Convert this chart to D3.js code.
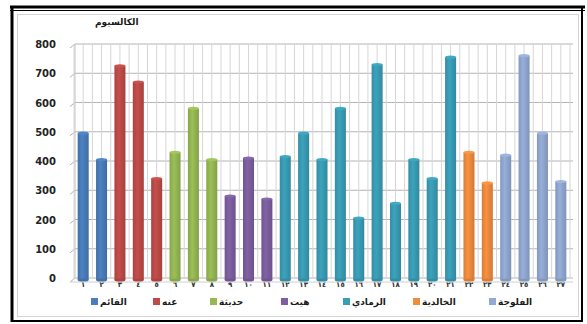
<!DOCTYPE html>
<html>
<head>
<meta charset="utf-8">
<script src="https://cdn.jsdelivr.net/npm/d3@7"></script>
<style>
  html, body { margin: 0; padding: 0; background: #fff; }
  svg { display: block; }
  text { font-family: "DejaVu Sans", "Noto Sans", sans-serif; }
</style>
</head>
<body>
<svg id="chart" width="587" height="324"></svg>
<script>
// Sample sites (Arabic-Indic numbering) and the city each belongs to
const sites = ["١","٢","٣","٤","٥","٦","٧","٨","٩","١٠","١١","١٢","١٣","١٤","١٥","١٦","١٧","١٨","١٩","٢٠","٢١","٢٢","٢٣","٢٤","٢٥","٢٦","٢٧"];
const cities = ["القائم", "عنه", "حديثة", "هيت", "الرمادي", "الخالدية", "الفلوجة"];
const cityColors = ["#4A7DBB", "#BE4B48", "#97B954", "#7D5FA0", "#3A9DB6", "#F08C3E", "#92A9D2"];
const siteCity = [0,0, 1,1,1, 2,2,2, 3,3,3, 4,4,4,4,4,4,4,4,4,4, 5,5, 6,6,6,6];
const calcium = [495,405, 725,670,340, 430,580,405, 280,410,270,
                 415,495,405,580,205,730,255,405,340,755, 430,325, 420,760,495,330];
const yTicks = [0,100,200,300,400,500,600,700,800];
const yTitle = "الكالسيوم";

const svg = d3.select("#chart");

// frame: thick black double border with a light grey inner chart border
svg.append("rect").attr("x", 17.5).attr("y", 14.5).attr("width", 561).attr("height", 302)
  .attr("fill", "#fff").attr("stroke", "#d4d4d4").attr("stroke-width", 1);
svg.append("line").attr("x1", 10).attr("x2", 585).attr("y1", 7).attr("y2", 7)
  .attr("stroke", "#000").attr("stroke-width", 3);
svg.append("line").attr("x1", 10).attr("x2", 585).attr("y1", 10.5).attr("y2", 10.5)
  .attr("stroke", "#000").attr("stroke-width", 1.2);
svg.append("line").attr("x1", 12).attr("x2", 12).attr("y1", 6).attr("y2", 322)
  .attr("stroke", "#000").attr("stroke-width", 3);
svg.append("line").attr("x1", 582).attr("x2", 582).attr("y1", 6).attr("y2", 322)
  .attr("stroke", "#000").attr("stroke-width", 2);
svg.append("line").attr("x1", 11).attr("x2", 583).attr("y1", 321).attr("y2", 321)
  .attr("stroke", "#000").attr("stroke-width", 2);

const x = d3.scaleBand().domain(sites).range([74, 570]).paddingInner(0.4).paddingOuter(0.2);
const y = d3.scaleLinear().domain([0, 800]).range([278, 44]);
const depth = 5;

// back wall gridlines (horizontal) with a short side-wall slant
const grid = svg.append("g");
yTicks.forEach(t => {
  grid.append("line").attr("x1", 75).attr("x2", 573).attr("y1", y(t)).attr("y2", y(t))
    .attr("stroke", "#b4b4b4").attr("stroke-width", 1);
  grid.append("line").attr("x1", 75 - depth).attr("x2", 75).attr("y1", y(t) + depth * 0.8).attr("y2", y(t))
    .attr("stroke", "#b4b4b4").attr("stroke-width", 1);
});
// vertical gridlines, two per category
for (let i = 0; i <= sites.length * 2; i++) {
  const gx = x.range()[0] + (x.range()[1] - x.range()[0]) * i / (sites.length * 2);
  grid.append("line").attr("x1", gx).attr("x2", gx).attr("y1", y(800)).attr("y2", y(0))
    .attr("stroke", "#d6d6d6").attr("stroke-width", 1);
}
// floor edge
grid.append("line").attr("x1", 70).attr("x2", 573).attr("y1", y(0) + 4).attr("y2", y(0) + 4)
  .attr("stroke", "#d0d0d0").attr("stroke-width", 1);
grid.append("line").attr("x1", 75).attr("x2", 75).attr("y1", y(800)).attr("y2", y(0))
  .attr("stroke", "#c4c4c4").attr("stroke-width", 1);

// column gradients for a softly rounded look
const defs = svg.append("defs");
cityColors.forEach((c, i) => {
  const g = defs.append("linearGradient").attr("id", "g" + i).attr("x1", "0").attr("x2", "1");
  const base = d3.color(c);
  g.append("stop").attr("offset", "0%").attr("stop-color", base.darker(0.3));
  g.append("stop").attr("offset", "40%").attr("stop-color", base.brighter(0.1));
  g.append("stop").attr("offset", "100%").attr("stop-color", base.darker(0.4));
});

const bars = svg.append("g");
sites.forEach((s, i) => {
  const c = siteCity[i];
  const bx = x(s), bw = x.bandwidth(), top = y(calcium[i]);
  bars.append("rect").attr("x", bx).attr("y", top).attr("width", bw).attr("height", y(0) - top + 2)
    .attr("fill", `url(#g${c})`);
  bars.append("ellipse").attr("cx", bx + bw / 2).attr("cy", top).attr("rx", bw / 2).attr("ry", 1.6)
    .attr("fill", d3.color(cityColors[c]).brighter(0.2));
  bars.append("ellipse").attr("cx", bx + bw / 2).attr("cy", y(0) + 2).attr("rx", bw / 2).attr("ry", 1.6)
    .attr("fill", d3.color(cityColors[c]).darker(0.3));
});

// y axis labels
const yAxis = d3.axisLeft(y).tickValues(yTicks).tickSize(0).tickPadding(0);
const ya = svg.append("g").attr("transform", "translate(56,0)").call(yAxis);
ya.select(".domain").remove();
ya.selectAll("text").attr("font-size", 10).attr("font-weight", "bold").attr("fill", "#222")
  .attr("dy", "0.35em");

// x axis labels
const xAxis = d3.axisBottom(x).tickSize(0).tickPadding(0);
const xa = svg.append("g").attr("transform", "translate(0,282)").call(xAxis);
xa.select(".domain").remove();
xa.selectAll("text").attr("font-size", 7).attr("font-weight", "bold").attr("fill", "#333");

// y title
svg.append("text").attr("x", 95).attr("y", 25).attr("text-anchor", "end")
  .attr("font-size", 9).attr("font-weight", "bold").attr("fill", "#1a1a1a")
  .attr("direction", "rtl").text(yTitle);

// legend
const legendX = [91, 153, 210, 281, 343, 413, 489];
const legend = svg.append("g");
cities.forEach((name, i) => {
  legend.append("rect").attr("x", legendX[i]).attr("y", 298).attr("width", 7).attr("height", 7)
    .attr("fill", cityColors[i]);
  legend.append("text").attr("x", legendX[i] + 9).attr("y", 305)
    .attr("font-size", 9).attr("font-weight", "bold").attr("fill", "#1a1a1a")
    .attr("text-anchor", "start").text(name);
});
</script>
</body>
</html>
